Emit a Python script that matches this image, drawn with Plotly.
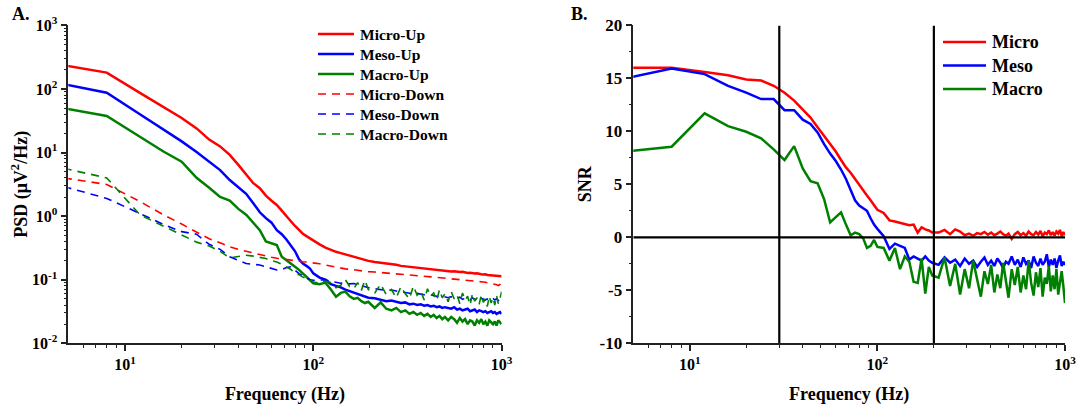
import plotly.graph_objects as go

# ---------------- frequency bins (Hz) ----------------
freq = [4, 8, 12, 16, 20, 24, 28, 32, 36, 40, 44, 48, 52, 56, 60, 64, 68, 72, 76, 80,
        84, 88, 92, 96, 100,
        108, 116, 124, 132, 140, 148, 156, 164, 172, 180, 188, 196,
        212, 228, 244, 260, 276, 292, 308, 324, 340, 356, 372, 388, 404, 420, 436,
        452, 468, 484, 500,
        520, 540, 560, 580, 600, 620, 640, 660, 680, 700, 720, 740, 760, 780, 800,
        820, 840, 860, 880, 900, 920, 940, 960, 980, 1000]

# ---------------- panel A: PSD (uV^2/Hz) ----------------
micro_up = [258, 181, 87, 52, 35, 24, 16.0, 12.5, 9.2, 6.4, 4.6, 3.3, 2.75, 2.1, 1.75,
            1.5, 1.22, 0.98, 0.83, 0.7, 0.6, 0.53, 0.485, 0.445, 0.41,
            0.36, 0.32, 0.295, 0.275, 0.262, 0.25, 0.238, 0.23, 0.225, 0.215, 0.205, 0.198,
            0.19, 0.186, 0.18, 0.176, 0.172, 0.165, 0.162, 0.158, 0.157, 0.153, 0.154,
            0.149, 0.147, 0.146, 0.143, 0.142, 0.140, 0.141, 0.138,
            0.137, 0.135, 0.136, 0.133, 0.132, 0.133, 0.13, 0.128, 0.129, 0.126, 0.125,
            0.126, 0.123, 0.122, 0.121, 0.122, 0.119, 0.118, 0.117, 0.118, 0.116, 0.115,
            0.114, 0.115, 0.113]
meso_up = [132, 87.5, 40, 23, 15, 10.2, 7.3, 5.3, 3.7, 2.9, 2.25, 1.6, 1.15, 0.93, 0.79,
           0.6, 0.52, 0.43, 0.34, 0.28, 0.21, 0.18, 0.165, 0.15, 0.126,
           0.108, 0.1, 0.085, 0.08, 0.076, 0.07, 0.066, 0.063, 0.06, 0.056, 0.053, 0.052,
           0.051, 0.048, 0.046, 0.047, 0.045, 0.043, 0.044, 0.041, 0.042, 0.040, 0.041,
           0.039, 0.040, 0.038, 0.039, 0.037, 0.038, 0.036, 0.037,
           0.036, 0.035, 0.037, 0.034, 0.035, 0.033, 0.034, 0.035, 0.032, 0.033, 0.034,
           0.031, 0.033, 0.032, 0.031, 0.032, 0.030, 0.031, 0.032, 0.030, 0.031, 0.029,
           0.030, 0.031, 0.029]
macro_up = [54.6, 37.6, 17.7, 10.4, 7.2, 4.0, 2.8, 2.0, 1.75, 1.3, 1.05, 0.78, 0.6, 0.4,
            0.37, 0.35, 0.23, 0.2, 0.18, 0.16, 0.143, 0.125, 0.11, 0.098, 0.088,
            0.085, 0.09, 0.07, 0.054, 0.062, 0.065, 0.055, 0.05, 0.052, 0.046, 0.043, 0.045,
            0.036, 0.044, 0.035, 0.033, 0.036, 0.031, 0.033, 0.029, 0.031, 0.028, 0.030,
            0.027, 0.029, 0.026, 0.028, 0.025, 0.027, 0.024, 0.026,
            0.023, 0.026, 0.024, 0.021, 0.025, 0.022, 0.024, 0.020, 0.023, 0.022, 0.019,
            0.023, 0.021, 0.024, 0.020, 0.022, 0.019, 0.023, 0.021, 0.020, 0.022, 0.019,
            0.023, 0.021, 0.020]
micro_down = [4.3, 3.15, 1.7, 1.05, 0.75, 0.56, 0.44, 0.38, 0.33, 0.3, 0.28, 0.26, 0.245,
              0.235, 0.225, 0.218, 0.212, 0.207, 0.202, 0.198, 0.195, 0.192, 0.19, 0.187, 0.185,
              0.178, 0.17, 0.163, 0.157, 0.152, 0.148, 0.146, 0.143, 0.14, 0.138, 0.136, 0.134,
              0.132, 0.13, 0.128, 0.126, 0.124, 0.122, 0.12, 0.119, 0.117, 0.116, 0.115,
              0.113, 0.112, 0.111, 0.11, 0.109, 0.108, 0.107, 0.106,
              0.105, 0.104, 0.103, 0.102, 0.101, 0.1, 0.099, 0.098, 0.097, 0.096, 0.096,
              0.095, 0.094, 0.093, 0.092, 0.091, 0.09, 0.089, 0.088, 0.087, 0.085, 0.083,
              0.081, 0.084, 0.092]
meso_down = [3.35, 1.9, 1.1, 0.74, 0.57, 0.52, 0.36, 0.3, 0.23, 0.2, 0.18, 0.175, 0.17,
             0.16, 0.15, 0.142, 0.145, 0.155, 0.16, 0.14, 0.125, 0.115, 0.108, 0.1, 0.098,
             0.1, 0.1, 0.094, 0.09, 0.088, 0.089, 0.086, 0.087, 0.083, 0.08, 0.078, 0.075,
             0.072, 0.07, 0.068, 0.069, 0.066, 0.064, 0.063, 0.062, 0.06, 0.061, 0.059,
             0.058, 0.057, 0.058, 0.056, 0.055, 0.054, 0.055, 0.053,
             0.052, 0.054, 0.051, 0.05, 0.053, 0.049, 0.051, 0.05, 0.048, 0.052, 0.049,
             0.05, 0.047, 0.051, 0.049, 0.048, 0.05, 0.047, 0.049, 0.051, 0.048, 0.05,
             0.047, 0.049, 0.05]
macro_down = [6.3, 4.0, 1.05, 0.7, 0.5, 0.39, 0.34, 0.28, 0.22, 0.23, 0.243, 0.235, 0.225,
              0.215, 0.2, 0.19, 0.175, 0.16, 0.145, 0.126, 0.12, 0.11, 0.103, 0.099, 0.092,
              0.088, 0.095, 0.09, 0.075, 0.082, 0.1, 0.078, 0.072, 0.09, 0.068, 0.098, 0.07,
              0.062, 0.085, 0.058, 0.07, 0.052, 0.078, 0.06, 0.05, 0.08, 0.057, 0.066,
              0.048, 0.072, 0.055, 0.062, 0.047, 0.07, 0.052, 0.06,
              0.045, 0.065, 0.05, 0.058, 0.042, 0.062, 0.048, 0.055, 0.04, 0.06, 0.046,
              0.052, 0.041, 0.058, 0.044, 0.05, 0.038, 0.055, 0.043, 0.052, 0.04, 0.056,
              0.042, 0.05, 0.065]

# ---------------- panel B: SNR ----------------
snr_micro = [16.0, 16.0, 15.6, 15.3, 14.9, 14.8, 14.3, 13.65, 12.9, 12.1, 11.3, 10.4, 9.6,
             8.8, 8.1, 7.3, 6.6, 6.1, 5.5, 4.9, 4.4, 3.95, 3.5, 3.0, 2.6,
             2.3, 1.6, 1.5, 1.4, 1.3, 1.15, 1.2, 0.45, 0.95, 0.75, 0.65, 0.45,
             0.45, 0.7, 0.3, 0.75, 0.55, 0.2, 0.35, 0.15, 0.4, 0.3, 0.5, 0.25, 0.45, 0.2,
             0.35, 0.55, 0.3, 0.15, 0.35,
             -0.15, 0.3, 0.5, 0.2, 0.4, 0.15, 0.55, 0.3, 0.2, 0.5, 0.25, 0.6, 0.1, 0.45,
             0.3, 0.65, 0.2, 0.5, 0.15, 0.55, 0.35, 0.7, 0.1, 0.5, 0.2]
snr_meso = [14.8, 15.94, 15.4, 14.3, 13.65, 13.05, 13.05, 12.0, 12.0, 11.1, 10.7, 9.9, 8.8,
            7.9, 7.2, 6.4, 5.5, 4.4, 3.5, 3.0, 2.7, 2.5, 1.8, 1.2, 0.8,
            0.1, -1.1, -0.6, -0.8, -1.0, -2.1, -1.8, -2.0, -2.2, -1.8, -2.2, -2.4,
            -2.6, -1.9, -2.4, -2.1, -2.7, -2.0, -2.5, -2.2, -2.8, -2.3, -1.9, -2.6, -2.2,
            -2.7, -2.0, -2.4, -2.9, -2.3, -2.5,
            -1.8, -2.6, -2.1, -2.8, -1.9, -2.5, -2.2, -2.9, -1.8, -2.4, -2.7, -2.0, -2.6,
            -2.3, -1.6, -2.8, -2.1, -2.6, -2.0, -2.9, -2.2, -1.7, -2.7, -2.3, -2.6]
snr_macro = [8.0, 8.55, 11.7, 10.5, 9.96, 9.34, 8.3, 7.29, 8.61, 6.5, 5.3, 5.1, 3.6, 1.4,
             1.9, 2.35, 1.2, 0.2, 0.45, 0.3, -0.1, -1.0, -0.8, -0.25, -0.9,
             -1.0, -2.2, -1.0, -3.0, -1.8, -2.3, -4.2, -4.3, -2.0, -5.3, -2.8, -3.6,
             -3.8, -1.9, -4.6, -2.5, -5.4, -3.0, -4.8, -2.2, -4.1, -5.6, -3.2, -4.4, -2.6,
             -5.2, -3.5, -4.8, -2.4, -4.2, -5.7,
             -3.0, -4.5, -2.8, -5.2, -3.6, -4.9, -2.2, -4.3, -5.5, -3.3, -4.7, -2.9, -5.6,
             -3.8, -4.4, -2.7, -5.1, -3.6, -4.9, -3.0, -5.4, -4.0, -3.2, -4.6, -6.2]

# reference markers on the SNR panel
band_edges = [30, 200]
snr_range = [-10, 20]

RED, BLUE, GREEN = "#ff0000", "#0000ff", "#008000"
FONT = "Liberation Serif"
AX_COLOR = "#222222"
DASH = "8px,6px"
SOLID_W, DASH_W = 2.5, 1.6
W, H = 1080, 409

fig = go.Figure()

psd_series = [
    ("Micro-Up", micro_up, RED, "solid"),
    ("Meso-Up", meso_up, BLUE, "solid"),
    ("Macro-Up", macro_up, GREEN, "solid"),
    ("Micro-Down", micro_down, RED, DASH),
    ("Meso-Down", meso_down, BLUE, DASH),
    ("Macro-Down", macro_down, GREEN, DASH),
]
for name, vals, col, dash in psd_series:
    fig.add_trace(go.Scatter(
        x=freq, y=vals, mode="lines", name=name, showlegend=False,
        line=dict(color=col, width=SOLID_W if dash == "solid" else DASH_W, dash=dash),
        xaxis="x", yaxis="y"))

snr_series = [("Micro", snr_micro, RED), ("Meso", snr_meso, BLUE), ("Macro", snr_macro, GREEN)]
for name, vals, col in snr_series:
    fig.add_trace(go.Scatter(
        x=freq, y=vals, mode="lines", name=name, showlegend=False,
        line=dict(color=col, width=SOLID_W), xaxis="x2", yaxis="y2"))

# black guide lines: band edges and zero level
for f in band_edges:
    fig.add_trace(go.Scatter(x=[f, f], y=snr_range, mode="lines",
                             line=dict(color="black", width=2.2), showlegend=False,
                             hoverinfo="skip", xaxis="x2", yaxis="y2"))
fig.add_trace(go.Scatter(x=[5, 1000], y=[0, 0], mode="lines",
                         line=dict(color="black", width=2.2), showlegend=False,
                         hoverinfo="skip", xaxis="x2", yaxis="y2"))

# ---------------- legends (drawn as key lines + labels in paper space) ----------------
shapes, annotations = [], []


def add_key(x0, x1, xt, y, label, col, dash, width, size):
    yp = 1 - y / H
    shapes.append(dict(type="line", xref="paper", yref="paper", x0=x0 / W, x1=x1 / W,
                       y0=yp, y1=yp, line=dict(color=col, width=width, dash=dash)))
    annotations.append(dict(text=f"<b>{label}</b>", x=xt / W, y=yp, xref="paper",
                            yref="paper", xanchor="left", yanchor="middle", showarrow=False,
                            font=dict(family=FONT, size=size, color="black")))


for i, (name, _, col, dash) in enumerate(psd_series):
    add_key(318, 354, 358, 34 + 20 * i, name, col, dash,
            SOLID_W if dash == "solid" else DASH_W, 15.5)
for i, (name, _, col) in enumerate(snr_series):
    add_key(943, 986, 990, 42 + 23.5 * i, name, col, "solid", SOLID_W, 18)

annotations += [
    dict(text="<b>A.</b>", x=10 / W, y=1 - 14 / H, xref="paper", yref="paper",
         xanchor="left", yanchor="middle", showarrow=False,
         font=dict(family=FONT, size=18, color="black")),
    dict(text="<b>B.</b>", x=569 / W, y=1 - 14 / H, xref="paper", yref="paper",
         xanchor="left", yanchor="middle", showarrow=False,
         font=dict(family=FONT, size=18, color="black")),
]

minor_f = [6, 7, 8, 9, 20, 30, 40, 50, 60, 70, 80, 90, 200, 300, 400, 500, 600, 700, 800, 900]
minor_psd = [m * 10.0 ** e for e in range(-2, 3) for m in range(2, 10)]

tick_font = dict(family=FONT, size=16, color="black")
title_font = dict(family=FONT, size=18, color="black")

common_x = dict(
    type="log", range=[0.69897, 3], automargin=False,
    showline=True, linecolor=AX_COLOR, linewidth=1.5,
    ticks="outside", ticklen=6, tickwidth=1.5, tickcolor=AX_COLOR,
    tickvals=[10, 100, 1000],
    ticktext=["<b>10<sup>1</sup></b>", "<b>10<sup>2</sup></b>", "<b>10<sup>3</sup></b>"],
    minor=dict(tickvals=minor_f, ticks="outside", ticklen=3, tickwidth=1, tickcolor=AX_COLOR,
               showgrid=False),
    showgrid=False, zeroline=False, tickfont=tick_font,
    title=dict(text="<b>Frequency (Hz)</b>", font=title_font, standoff=15),
)

fig.update_layout(
    width=W, height=H,
    margin=dict(l=0, r=0, t=0, b=0, autoexpand=False),
    paper_bgcolor="white", plot_bgcolor="white",
    font=dict(family=FONT, color="black"),
    showlegend=False,
    xaxis=dict(domain=[68.3 / W, 501.6 / W], anchor="y", **common_x),
    xaxis2=dict(domain=[633.3 / W, 1065 / W], anchor="y2", **common_x),
    yaxis=dict(
        domain=[1 - 343.3 / H, 1 - 25.4 / H], anchor="x", type="log", range=[-2, 3],
        automargin=False,
        showline=True, linecolor=AX_COLOR, linewidth=1.5,
        ticks="outside", ticklen=6, tickwidth=1.5, tickcolor=AX_COLOR,
        tickvals=[0.01, 0.1, 1, 10, 100, 1000],
        ticktext=["<b>10<sup>-2</sup></b>", "<b>10<sup>-1</sup></b>", "<b>10<sup>0</sup></b>",
                  "<b>10<sup>1</sup></b>", "<b>10<sup>2</sup></b>", "<b>10<sup>3</sup></b>"],
        minor=dict(tickvals=minor_psd, ticks="outside", ticklen=3, tickwidth=1,
                   tickcolor=AX_COLOR, showgrid=False),
        showgrid=False, zeroline=False, tickfont=tick_font,
        title=dict(text="<b>PSD (μV<sup>2</sup>/Hz)</b>", font=title_font, standoff=0),
    ),
    yaxis2=dict(
        domain=[1 - 343.3 / H, 1 - 25.4 / H], anchor="x2", range=snr_range,
        automargin=False,
        showline=True, linecolor=AX_COLOR, linewidth=1.5,
        ticks="outside", ticklen=6, tickwidth=1.5, tickcolor=AX_COLOR,
        tickvals=[-10, -5, 0, 5, 10, 15, 20],
        ticktext=[f"<b>{v}</b>" for v in [-10, -5, 0, 5, 10, 15, 20]],
        minor=dict(tickvals=[-7.5, -2.5, 2.5, 7.5, 12.5, 17.5], ticks="outside", ticklen=3,
                   tickwidth=1, tickcolor=AX_COLOR, showgrid=False),
        showgrid=False, zeroline=False, tickfont=dict(family=FONT, size=17, color="black"),
        title=dict(text="<b>SNR</b>", font=title_font, standoff=3),
    ),
    shapes=shapes,
    annotations=annotations,
)

fig.write_html("out.html")
